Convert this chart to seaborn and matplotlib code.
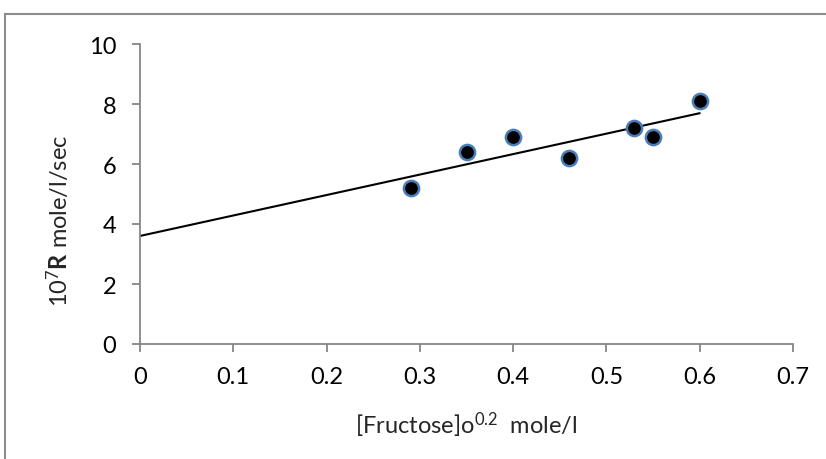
import numpy as np
import pandas as pd
import seaborn as sns
import matplotlib
matplotlib.use("Agg")
import matplotlib.pyplot as plt
from matplotlib.patches import Rectangle

# Measured rate vs. fructose concentration term
fructose_term = [0.29, 0.35, 0.40, 0.46, 0.53, 0.55, 0.60]
rate_1e7 = [5.2, 6.4, 6.9, 6.2, 7.2, 6.9, 8.1]
x_ticks = [0, 0.1, 0.2, 0.3, 0.4, 0.5, 0.6, 0.7]
y_ticks = [0, 2, 4, 6, 8, 10]

sns.set_theme(style="white")
plt.rcParams["font.family"] = ["Lato", "DejaVu Sans"]
plt.rcParams["mathtext.fontset"] = "custom"
plt.rcParams["mathtext.rm"] = "Lato"
plt.rcParams["mathtext.bf"] = "Lato:bold"
plt.rcParams["mathtext.it"] = "Lato:italic"

df = pd.DataFrame({"x": fructose_term, "y": rate_1e7})

fig = plt.figure(figsize=(8.26, 4.6), dpi=100)
ax = fig.add_axes([140 / 826, 1 - 345 / 460, (793 - 140) / 826, 300 / 460])

axis_grey = "#868686"
fs = 17

# Linear trendline from the origin of x to the last measurement
slope, intercept = np.polyfit(fructose_term, rate_1e7, 1)
xl = np.array([0.0, max(fructose_term)])
ax.plot(xl, intercept + slope * xl, color="black", lw=1.5, zorder=2)

sns.scatterplot(data=df, x="x", y="y", ax=ax, color="black", s=120,
                edgecolor="#4a7ebb", linewidth=1.8, zorder=3, legend=False)

ax.set_xlim(0, 0.7)
ax.set_ylim(0, 10)
ax.set_xticks(x_ticks)
ax.set_xticklabels(["0" if t == 0 else f"{t:g}" for t in x_ticks])
ax.set_yticks(y_ticks)
ax.set_yticklabels([str(t) for t in y_ticks])

for side in ["top", "right"]:
    ax.spines[side].set_visible(False)
for side in ["left", "bottom"]:
    ax.spines[side].set_color(axis_grey)
    ax.spines[side].set_linewidth(1.3)

ax.tick_params(axis="both", which="major", direction="out", length=6,
               width=1.3, color=axis_grey, labelsize=fs, labelcolor="black",
               bottom=True, left=True)
ax.tick_params(axis="x", pad=10)
ax.tick_params(axis="y", pad=11)

ax.set_xlabel(r"[Fructose]o$^{0.2}$  mole/l", fontsize=fs)
ax.set_ylabel(r"$10^{7}\mathbf{R}$ mole/l/sec", fontsize=fs)
ax.xaxis.set_label_coords(0.5, -0.22)
ax.yaxis.set_label_coords(-0.104, 0.413)

# Chart-area frame
fig.patches.append(Rectangle((5 / 826, -0.1), 1.2, 1 - 15 / 460 + 0.1,
                             transform=fig.transFigure, fill=False,
                             edgecolor="#8c8c8c", linewidth=1.5))

fig.savefig("out.png", dpi=100)
